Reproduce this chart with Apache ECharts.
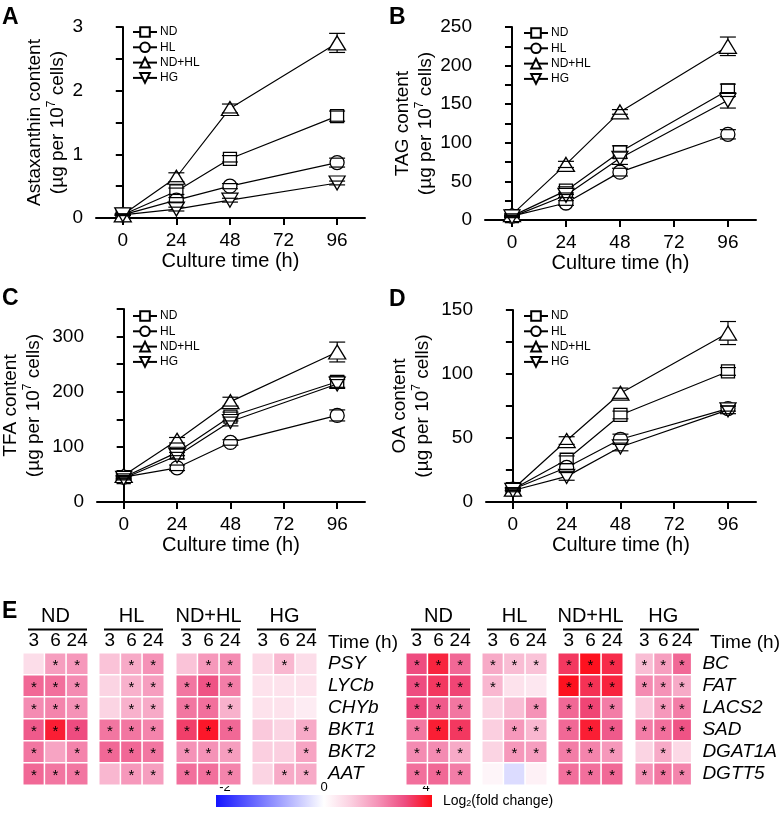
<!DOCTYPE html>
<html><head><meta charset="utf-8">
<script src="https://cdn.jsdelivr.net/npm/echarts@6/dist/echarts.min.js"></script>
<style>html,body{margin:0;padding:0;background:#fff}#c{width:780px;height:829px}</style>
</head><body><div id="c"></div>
<script>
const FONT = '"Liberation Sans", Arial, Helvetica, sans-serif';

// ---------- line-chart data ----------
const timePoints = [0, 24, 48, 96];
const seriesNames = ['ND', 'HL', 'ND+HL', 'HG'];
const xTickValues = [0, 24, 48, 72, 96];

// A: Astaxanthin
const astaND   = [0.05, 0.42, 0.93, 1.60];
const astaHL   = [0.05, 0.28, 0.50, 0.87];
const astaNDHL = [0.05, 0.64, 1.72, 2.75];
const astaHG   = [0.05, 0.14, 0.28, 0.55];
const astaErrND   = [0.01, 0.05, 0.05, 0.08];
const astaErrHL   = [0.01, 0.04, 0.04, 0.07];
const astaErrNDHL = [0.01, 0.07, 0.07, 0.15];
const astaErrHG   = [0.01, 0.03, 0.03, 0.03];

// B: TAG
const tagND   = [5, 38, 88, 168];
const tagHL   = [5, 22, 62, 111];
const tagNDHL = [7, 72, 140, 225];
const tagHG   = [4, 32, 80, 155];
const tagErrND   = [1, 5, 8, 8];
const tagErrHL   = [1, 3, 5, 6];
const tagErrNDHL = [1, 4, 3, 12];
const tagErrHG   = [1, 3, 8, 10];

// C: TFA
const tfaND   = [45, 90, 155, 218];
const tfaHL   = [45, 62, 108, 157];
const tfaNDHL = [48, 112, 182, 272];
const tfaHG   = [43, 84, 146, 214];
const tfaErrND   = [3, 6, 8, 10];
const tfaErrHL   = [3, 5, 5, 10];
const tfaErrNDHL = [3, 5, 8, 18];
const tfaErrHG   = [3, 6, 8, 8];

// D: OA
const oaND   = [10, 33, 68, 102];
const oaHL   = [10, 27, 49, 73];
const oaNDHL = [10, 48, 85, 132];
const oaHG   = [9, 20, 43, 72];
const oaErrND   = [1, 3, 3, 3];
const oaErrHL   = [1, 3, 4, 2];
const oaErrNDHL = [1, 3, 4, 9];
const oaErrHG   = [1, 3, 3, 3];

// ---------- heatmap data ----------
const heatGroups = ['ND', 'HL', 'ND+HL', 'HG'];
const heatTimes = ['3', '6', '24'];
const genesLeft = ['PSY', 'LYCb', 'CHYb', 'BKT1', 'BKT2', 'AAT'];
const genesRight = ['BC', 'FAT', 'LACS2', 'SAD', 'DGAT1A', 'DGTT5'];
// columns: ND 3,6,24 | HL 3,6,24 | ND+HL 3,6,24 | HG 3,6,24  (log2 fold change)
const leftFC = [
  [0.7, 1.8, 1.9, 1.2, 1.6, 2.0, 1.2, 1.9, 2.1, 0.8, 1.4, 0.7],
  [2.6, 2.5, 2.1, 0.9, 1.5, 1.8, 2.4, 2.9, 2.3, 0.6, 0.6, 0.6],
  [2.1, 2.2, 2.0, 0.9, 1.5, 1.6, 2.4, 2.5, 1.5, 0.6, 0.6, 0.4],
  [2.8, 3.7, 3.0, 2.4, 2.4, 2.2, 3.2, 3.8, 2.6, 1.1, 0.9, 1.6],
  [2.4, 1.7, 2.2, 2.6, 2.6, 2.4, 2.0, 2.0, 1.8, 1.0, 1.0, 1.7],
  [2.6, 2.4, 2.4, 1.4, 1.9, 1.8, 2.5, 2.5, 2.2, 0.9, 1.6, 1.6]
];
const leftSig = [
  [0, 1, 1, 0, 1, 1, 0, 1, 1, 0, 1, 0],
  [1, 1, 1, 0, 1, 1, 1, 1, 1, 0, 0, 0],
  [1, 1, 1, 0, 1, 1, 1, 1, 1, 0, 0, 0],
  [1, 1, 1, 1, 1, 1, 1, 1, 1, 0, 0, 1],
  [1, 0, 1, 1, 1, 1, 1, 1, 1, 0, 0, 1],
  [1, 1, 1, 0, 1, 1, 1, 1, 1, 0, 1, 1]
];
const rightFC = [
  [3.0, 3.6, 2.6, 1.6, 1.3, 1.2, 3.3, 3.9, 3.5, 1.3, 1.8, 2.6],
  [3.0, 3.3, 3.1, 1.4, 0.6, 0.5, 3.9, 3.4, 3.6, 2.1, 2.0, 1.6],
  [3.0, 2.8, 2.4, 0.9, 1.3, 2.0, 2.6, 3.1, 2.3, 1.1, 1.9, 2.3],
  [2.4, 3.7, 3.3, 1.0, 1.9, 1.4, 2.6, 3.7, 2.8, 2.3, 2.5, 2.9],
  [2.1, 2.1, 1.6, 0.9, 1.9, 1.8, 2.3, 2.2, 1.9, 0.9, 1.6, 0.8],
  [2.5, 2.6, 2.3, 0.2, -0.3, 0.3, 2.5, 2.5, 2.6, 2.0, 2.4, 2.2]
];
const rightSig = [
  [1, 1, 1, 1, 1, 1, 1, 1, 1, 1, 1, 1],
  [1, 1, 1, 1, 0, 0, 1, 1, 1, 1, 1, 1],
  [1, 1, 1, 0, 0, 1, 1, 1, 1, 0, 1, 1],
  [1, 1, 1, 0, 1, 1, 1, 1, 1, 1, 1, 1],
  [1, 1, 1, 0, 1, 1, 1, 1, 1, 0, 1, 0],
  [1, 1, 1, 0, 0, 0, 1, 1, 1, 1, 1, 1]
];
const colorbarTicks = ['-2', '0', '4'];

// ---------- styles ----------
const symbolDefs = [
  {symbol: 'rect', size: 13, rotate: 0, half: 6.5},
  {symbol: 'circle', size: 14, rotate: 0, half: 7},
  {symbol: 'triangle', size: [17, 14], rotate: 0, half: 7},
  {symbol: 'triangle', size: [16, 14], rotate: 180, half: 7}
];
const heatColors = ['#1414ff', '#8a8aff', '#ffffff', '#fbcfe0', '#f592b7', '#ee4c80', '#ff0a14'];

const panels = [
  {grid: {left: 96, top: 27, width: 269, height: 191}, yMax: 3, yStep: 0.5, labelStep: 1,
   title: 'Astaxanthin content', nameGap: 27,
   vals: [astaND, astaHL, astaNDHL, astaHG], errs: [astaErrND, astaErrHL, astaErrNDHL, astaErrHG],
   legend: {left: 127, top: 21}},
  {grid: {left: 485, top: 27, width: 271, height: 193}, yMax: 250, yStep: 25, labelStep: 50,
   title: 'TAG content', nameGap: 48,
   vals: [tagND, tagHL, tagNDHL, tagHG], errs: [tagErrND, tagErrHL, tagErrNDHL, tagErrHG],
   legend: {left: 518, top: 22}},
  {grid: {left: 96, top: 309, width: 269, height: 193}, yMax: 350, yStep: 50, labelStep: 100,
   title: 'TFA content', nameGap: 52,
   vals: [tfaND, tfaHL, tfaNDHL, tfaHG], errs: [tfaErrND, tfaErrHL, tfaErrNDHL, tfaErrHG],
   legend: {left: 127, top: 305}},
  {grid: {left: 486, top: 310, width: 270, height: 192}, yMax: 150, yStep: 25, labelStep: 50,
   title: 'OA content', nameGap: 52,
   vals: [oaND, oaHL, oaNDHL, oaHG], errs: [oaErrND, oaErrHL, oaErrNDHL, oaErrHG],
   legend: {left: 518, top: 305}}
];

const grids = [], xAxis = [], yAxis = [], series = [], legends = [], graphics = [];

panels.forEach((p, pi) => {
  grids.push(Object.assign({containLabel: false}, p.grid));
  xAxis.push({
    type: 'value', gridIndex: pi, min: -12, max: 108.5,
    axisLine: {show: true, lineStyle: {color: '#000', width: 2}},
    axisTick: {show: true, customValues: xTickValues, length: 7, lineStyle: {color: '#000', width: 2}},
    axisLabel: {customValues: xTickValues, color: '#000', fontSize: 19, fontFamily: FONT, margin: 13},
    splitLine: {show: false},
    name: 'Culture time (h)', nameLocation: 'middle', nameGap: 33,
    nameTextStyle: {color: '#000', fontSize: 20, fontFamily: FONT}
  });
  yAxis.push({
    type: 'value', gridIndex: pi, min: 0, max: p.yMax, interval: p.yStep,
    axisLine: {show: true, lineStyle: {color: '#000', width: 2}},
    axisTick: {show: true, length: 7, lineStyle: {color: '#000', width: 2}},
    axisLabel: {color: '#000', fontSize: 19, fontFamily: FONT, margin: 13,
      formatter: v => (Math.abs(v / p.labelStep - Math.round(v / p.labelStep)) < 1e-9 ? String(v) : '')},
    splitLine: {show: false},
    name: '{t|' + p.title + '}\n{t|(µg per 10}{s|7}{t| cells)}',
    nameLocation: 'middle', nameGap: p.nameGap,
    nameTextStyle: {color: '#000', fontFamily: FONT,
      rich: {t: {fontSize: 19, fontFamily: FONT, color: '#000', lineHeight: 23},
             s: {fontSize: 12, fontFamily: FONT, color: '#000', verticalAlign: 'top', lineHeight: 23, padding: [0, 0, 6, 0]}}}
  });
  p.vals.forEach((vals, si) => {
    const sd = symbolDefs[si];
    series.push({
      type: 'line', name: seriesNames[si], xAxisIndex: pi, yAxisIndex: pi,
      data: timePoints.map((t, i) => [t, vals[i]]),
      symbol: sd.symbol, symbolSize: sd.size, symbolRotate: sd.rotate, showAllSymbol: true,
      lineStyle: {color: '#000', width: 1.2},
      itemStyle: {color: '#fff', borderColor: '#000', borderWidth: 1.3},
      z: 2 + si * 0.01, silent: true
    });
  });
  p.vals.forEach((vals, si) => {
    const half = symbolDefs[si].half;
    const errs = p.errs[si];
    series.push({
      type: 'custom', name: 'err-' + pi + '-' + si, xAxisIndex: pi, yAxisIndex: pi, z: 4, silent: true,
      data: timePoints.map((t, i) => [t, vals[i], errs[i]]),
      renderItem(params, api) {
        const x = api.value(0), y = api.value(1), e = api.value(2);
        const c = api.coord([x, y]);
        const top = api.coord([x, y + e]);
        const bot = api.coord([x, y - e]);
        const cap = 8;
        const st = {stroke: '#000', lineWidth: 1.2};
        const ch = [
          {type: 'line', shape: {x1: c[0] - cap, y1: top[1], x2: c[0] + cap, y2: top[1]}, style: st},
          {type: 'line', shape: {x1: c[0] - cap, y1: bot[1], x2: c[0] + cap, y2: bot[1]}, style: st}
        ];
        if (c[1] - top[1] > half) ch.push({type: 'line', shape: {x1: c[0], y1: top[1], x2: c[0], y2: c[1] - half}, style: st});
        if (bot[1] - c[1] > half) ch.push({type: 'line', shape: {x1: c[0], y1: c[1] + half, x2: c[0], y2: bot[1]}, style: st});
        return {type: 'group', children: ch};
      }
    });
  });
  legends.push({
    left: p.legend.left, top: p.legend.top, orient: 'vertical', data: seriesNames,
    itemWidth: 24, itemHeight: 12, itemGap: 3.3, selectedMode: false,
    textStyle: {color: '#000', fontSize: 12, fontFamily: FONT, padding: [0, 0, 0, -2]}
  });
});

// ---------- heatmaps ----------
const heatTop = 653, heatH = 132, heatW = 65;
const blocks = [
  {xs: [23, 99, 176, 252], genes: genesLeft, fc: leftFC, sig: leftSig},
  {xs: [406, 482, 558, 635], genes: genesRight, fc: rightFC, sig: rightSig}
];
const heatSeriesIdx = [];
blocks.forEach((b, bi) => {
  b.xs.forEach((gx, g) => {
    const gi = grids.length;
    grids.push({left: gx, top: heatTop, width: heatW, height: heatH, containLabel: false});
    xAxis.push({
      type: 'category', gridIndex: gi, data: heatTimes, position: 'top',
      axisLine: {show: false}, axisTick: {show: false}, splitLine: {show: false},
      axisLabel: {interval: 0, hideOverlap: false, color: '#000', fontSize: 19, fontFamily: FONT, margin: 3},
      name: heatGroups[g], nameLocation: 'middle', nameGap: 27,
      nameTextStyle: {color: '#000', fontSize: 20, fontFamily: FONT}
    });
    const isLast = g === 3;
    yAxis.push({
      type: 'category', gridIndex: gi, data: b.genes, inverse: true, position: 'right',
      axisLine: {show: false}, axisTick: {show: false}, splitLine: {show: false},
      axisLabel: {show: isLast, interval: 0, hideOverlap: false, color: '#000', fontSize: 19, fontStyle: 'italic',
        fontFamily: FONT, margin: 11, align: 'left'}
    });
    const data = [];
    b.genes.forEach((gene, r) => {
      for (let c = 0; c < 3; c++) {
        data.push([c, r, b.fc[r][g * 3 + c], b.sig[r][g * 3 + c]]);
      }
    });
    heatSeriesIdx.push(series.length);
    series.push({
      type: 'heatmap', xAxisIndex: gi, yAxisIndex: gi, data: data, silent: true,
      encode: {x: 0, y: 1, value: 2},
      itemStyle: {borderColor: '#fff', borderWidth: 1.5},
      label: {show: true, color: '#000', fontSize: 15, fontFamily: FONT, offset: [0, 2],
        formatter: prm => (prm.value[3] ? '*' : '')},
      emphasis: {disabled: true}
    });
    graphics.push({type: 'line', shape: {x1: gx + 5, y1: 629.5, x2: gx + heatW - 1, y2: 629.5},
      style: {stroke: '#000', lineWidth: 2}});
  });
});

// Panel letters
[['A', 2, 6], ['B', 389, 6], ['C', 2, 287], ['D', 389, 288], ['E', 2, 600]].forEach(([t, x, y]) => {
  graphics.push({type: 'text', left: x, top: y, style: {text: t, fill: '#000', font: 'bold 23px ' + FONT}});
});
// "Time (h)" labels
[328, 710].forEach(x => graphics.push({type: 'text', x: x, y: 643,
  style: {text: 'Time (h)', fill: '#000', font: '19px ' + FONT, textVerticalAlign: 'middle', textAlign: 'left'}}));

// Colorbar
const cbX = 216, cbY = 795, cbW = 216, cbH = 12;
graphics.push({type: 'rect', shape: {x: cbX, y: cbY, width: cbW, height: cbH},
  style: {fill: new echarts.graphic.LinearGradient(0, 0, 1, 0, [
    {offset: 0, color: heatColors[0]}, {offset: 0.25, color: heatColors[1]}, {offset: 0.5, color: heatColors[2]},
    {offset: 0.625, color: heatColors[3]}, {offset: 0.75, color: heatColors[4]}, {offset: 0.875, color: heatColors[5]},
    {offset: 1, color: heatColors[6]}])}});
[[colorbarTicks[0], 225], [colorbarTicks[1], 324], [colorbarTicks[2], 426]].forEach(([t, x]) => {
  graphics.push({type: 'text', x: x, y: 787, style: {text: t, fill: '#000', font: '13px ' + FONT, textAlign: 'center', textVerticalAlign: 'middle'}});
});
graphics.push({type: 'text', x: 443, y: 801, style: {
  text: '{a|Log}{b|2}{a|(fold change)}', textVerticalAlign: 'middle',
  rich: {a: {fontSize: 14, fontFamily: FONT, fill: '#000', color: '#000'},
         b: {fontSize: 9, fontFamily: FONT, fill: '#000', color: '#000', verticalAlign: 'bottom', padding: [6, 0, 0, 0]}}}});

const option = {
  animation: false,
  backgroundColor: '#fff',
  textStyle: {fontFamily: FONT},
  grid: grids, xAxis: xAxis, yAxis: yAxis, legend: legends, series: series,
  visualMap: {show: false, type: 'continuous', min: -2, max: 4, seriesIndex: heatSeriesIdx, dimension: 2,
    inRange: {color: heatColors}},
  graphic: graphics
};
const chart = echarts.init(document.getElementById('c'), null, {renderer: 'canvas'});
chart.setOption(option);
</script></body></html>
